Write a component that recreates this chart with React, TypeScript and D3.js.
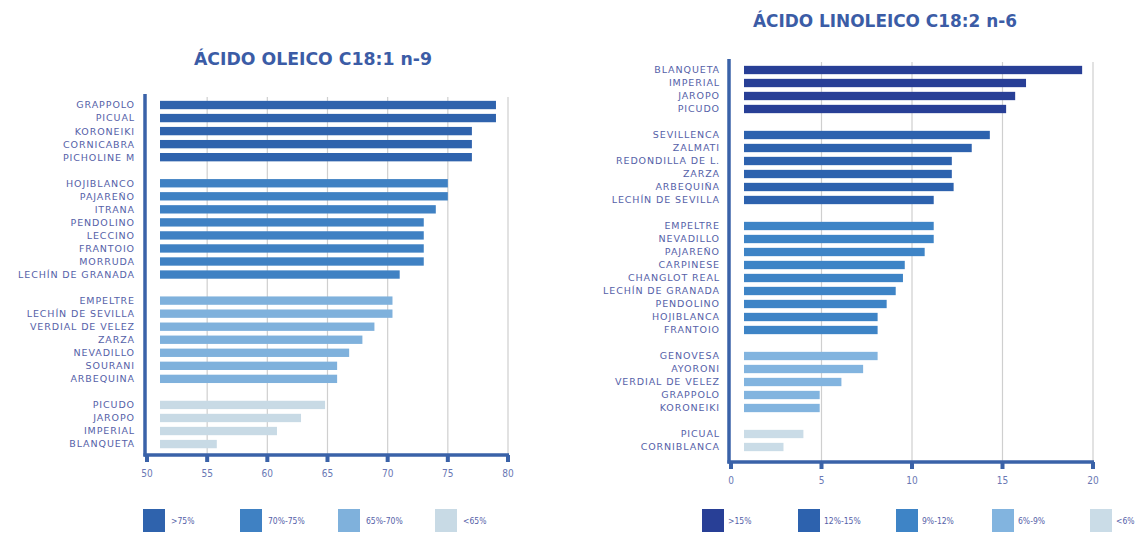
import React, { useEffect, useRef } from 'react';
import * as d3 from 'd3';

// ==== data

const oleicoGroups = [
    ['GRAPPOLO', 'PICUAL', 'KORONEIKI', 'CORNICABRA', 'PICHOLINE M'],
    ['HOJIBLANCO', 'PAJAREÑO', 'ITRANA', 'PENDOLINO', 'LECCINO', 'FRANTOIO', 'MORRUDA', 'LECHÍN DE GRANADA'],
    ['EMPELTRE', 'LECHÍN DE SEVILLA', 'VERDIAL DE VELEZ', 'ZARZA', 'NEVADILLO', 'SOURANI', 'ARBEQUINA'],
    ['PICUDO', 'JAROPO', 'IMPERIAL', 'BLANQUETA'],
];
const oleicoValues = [
    [79, 79, 77, 77, 77],
    [75, 75, 74, 73, 73, 73, 73, 71],
    [70.4, 70.4, 68.9, 67.9, 66.8, 65.8, 65.8],
    [64.8, 62.8, 60.8, 55.8],
];
const oleicoTicks = [50, 55, 60, 65, 70, 75, 80];
const oleicoLegend = ['>75%', '70%-75%', '65%-70%', '<65%'];
const oleicoColors = ['#2f63ad', '#3f81c3', '#7fb1dc', '#c8dae5'];

const linoleicoGroups = [
    ['BLANQUETA', 'IMPERIAL', 'JAROPO', 'PICUDO'],
    ['SEVILLENCA', 'ZALMATI', 'REDONDILLA DE L.', 'ZARZA', 'ARBEQUIÑA', 'LECHÍN DE SEVILLA'],
    ['EMPELTRE', 'NEVADILLO', 'PAJAREÑO', 'CARPINESE', 'CHANGLOT REAL', 'LECHÍN DE GRANADA', 'PENDOLINO', 'HOJIBLANCA', 'FRANTOIO'],
    ['GENOVESA', 'AYORONI', 'VERDIAL DE VELEZ', 'GRAPPOLO', 'KORONEIKI'],
    ['PICUAL', 'CORNIBLANCA'],
];
const linoleicoValues = [
    [19.4, 16.3, 15.7, 15.2],
    [14.3, 13.3, 12.2, 12.2, 12.3, 11.2],
    [11.2, 11.2, 10.7, 9.6, 9.5, 9.1, 8.6, 8.1, 8.1],
    [8.1, 7.3, 6.1, 4.9, 4.9],
    [4.0, 2.9],
];
const linoleicoTicks = [0, 5, 10, 15, 20];
const linoleicoLegend = ['>15%', '12%-15%', '9%-12%', '6%-9%', '<6%'];
const linoleicoColors = ['#283f96', '#2d62ae', '#3e84c6', '#82b4df', '#cadce7'];

// ==== styles

const BLUE = '#3a62a8';
const TEXT = '#5561a8';
const LABEL_FONT = "'DejaVu Sans', sans-serif";
const SMALL_FONT = "'DejaVu Sans Condensed', 'DejaVu Sans', sans-serif";

type ChartCfg = {
    title: string;
    titleX: number;
    titleY: number;
    titleWidth: number;
    groups: string[][];
    values: number[][];
    colors: string[];
    ticks: number[];
    legend: string[];
    legendX: number[];
    legendLabelDx: number;
    x0: number;
    x1: number;
    top: number;
    slot: number;
    axisTop: number;
    axisY: number;
    labelRight: number;
    barOffset: number;
};

function drawChart(svg: d3.Selection<SVGSVGElement, unknown, null, undefined>, c: ChartCfg) {
    const g = svg.append('g');

    // slots, with an empty slot between groups
    const slots: string[] = [];
    const rows: { key: string; name: string; value: number; group: number }[] = [];
    c.groups.forEach((names, gi) => {
        if (gi > 0) slots.push('gap' + gi);
        names.forEach((name, i) => {
            const key = gi + '-' + name;
            slots.push(key);
            rows.push({ key, name, value: c.values[gi][i], group: gi });
        });
    });

    const x = d3.scaleLinear()
        .domain([c.ticks[0], c.ticks[c.ticks.length - 1]])
        .range([c.x0, c.x1]);
    const y = d3.scaleBand()
        .domain(slots)
        .range([c.top, c.top + slots.length * c.slot])
        .paddingInner(0.36)
        .paddingOuter(0.18);

    // title
    g.append('text')
        .attr('x', c.titleX)
        .attr('y', c.titleY)
        .attr('text-anchor', 'middle')
        .attr('textLength', c.titleWidth)
        .attr('lengthAdjust', 'spacingAndGlyphs')
        .attr('font-family', "'DejaVu Sans Condensed', 'DejaVu Sans', sans-serif")
        .attr('font-weight', 'bold')
        .attr('font-size', 18)
        .attr('fill', '#3b5ca6')
        .text(c.title);

    // grid
    g.selectAll('.grid')
        .data(c.ticks.slice(1))
        .enter()
        .append('line')
        .attr('x1', (d) => x(d))
        .attr('x2', (d) => x(d))
        .attr('y1', c.axisTop)
        .attr('y2', c.axisY)
        .attr('stroke', '#cfcfcf')
        .attr('stroke-width', 1.2);

    // bars
    g.selectAll('.bar')
        .data(rows)
        .enter()
        .append('rect')
        .attr('x', x(c.ticks[0]) + c.barOffset)
        .attr('y', (d) => y(d.key) as number)
        .attr('width', (d) => Math.max(0, x(d.value) - x(c.ticks[0]) - c.barOffset))
        .attr('height', y.bandwidth())
        .attr('fill', (d) => c.colors[d.group]);

    // category labels
    g.selectAll('.lbl')
        .data(rows)
        .enter()
        .append('text')
        .attr('x', c.labelRight)
        .attr('y', (d) => (y(d.key) as number) + y.bandwidth() / 2)
        .attr('dy', '0.36em')
        .attr('text-anchor', 'end')
        .attr('font-family', LABEL_FONT)
        .attr('font-size', 9.5)
        .attr('letter-spacing', 0.9)
        .attr('fill', TEXT)
        .text((d) => d.name);

    // axes
    g.append('line')
        .attr('x1', c.x0 - 2).attr('x2', c.x0 - 2)
        .attr('y1', c.axisTop - 3).attr('y2', c.axisY + 1.5)
        .attr('stroke', BLUE).attr('stroke-width', 3.5);
    g.append('line')
        .attr('x1', c.x0 - 3.5).attr('x2', c.x1 + 1)
        .attr('y1', c.axisY).attr('y2', c.axisY)
        .attr('stroke', BLUE).attr('stroke-width', 3.5);

    g.selectAll('.tick')
        .data(c.ticks)
        .enter()
        .append('rect')
        .attr('x', (d) => x(d) - 2)
        .attr('y', c.axisY)
        .attr('width', 4)
        .attr('height', 7)
        .attr('fill', BLUE);

    g.selectAll('.ticklbl')
        .data(c.ticks)
        .enter()
        .append('text')
        .attr('x', (d) => x(d))
        .attr('y', c.axisY + 22)
        .attr('text-anchor', 'middle')
        .attr('font-family', SMALL_FONT)
        .attr('font-size', 10)
        .attr('fill', '#6a78b4')
        .text((d) => d);

    // legend
    const lg = g.selectAll('.legend')
        .data(c.legend)
        .enter()
        .append('g')
        .attr('transform', (d, i) => 'translate(' + c.legendX[i] + ',509)');
    lg.append('rect')
        .attr('width', 22)
        .attr('height', 23)
        .attr('fill', (d, i) => c.colors[i]);
    lg.append('text')
        .attr('x', c.legendLabelDx)
        .attr('y', 12)
        .attr('dy', '0.35em')
        .attr('font-family', SMALL_FONT)
        .attr('font-size', 8.5)
        .attr('fill', TEXT)
        .text((d) => d);
}

// ====

const App = () => {
    const ref = useRef<SVGSVGElement>(null);

    useEffect(() => {
        const svg = d3.select(ref.current as SVGSVGElement);
        svg.selectAll('*').remove();

        drawChart(svg, {
            title: 'ÁCIDO OLEICO C18:1 n-9',
            titleX: 313, titleY: 65, titleWidth: 238,
            groups: oleicoGroups,
            values: oleicoValues,
            colors: oleicoColors,
            ticks: oleicoTicks,
            legend: oleicoLegend,
            legendX: [143, 240, 338, 435],
            legendLabelDx: 28,
            x0: 147, x1: 508,
            top: 98.5, slot: 13.04,
            axisTop: 97, axisY: 455,
            labelRight: 135,
            barOffset: 13,
        });

        drawChart(svg, {
            title: 'ÁCIDO LINOLEICO C18:2 n-6',
            titleX: 885, titleY: 27, titleWidth: 264,
            groups: linoleicoGroups,
            values: linoleicoValues,
            colors: linoleicoColors,
            ticks: linoleicoTicks,
            legend: linoleicoLegend,
            legendX: [702, 798, 896, 992, 1090],
            legendLabelDx: 26,
            x0: 731, x1: 1093,
            top: 63.5, slot: 13,
            axisTop: 62, axisY: 462,
            labelRight: 720,
            barOffset: 13,
        });
    }, []);

    return (
        <div style={{ position: 'absolute', left: 0, top: 0 }}>
            <svg ref={ref} width={1143} height={536} style={{ display: 'block', background: '#fff' }} />
        </div>
    );
};

export default App;
